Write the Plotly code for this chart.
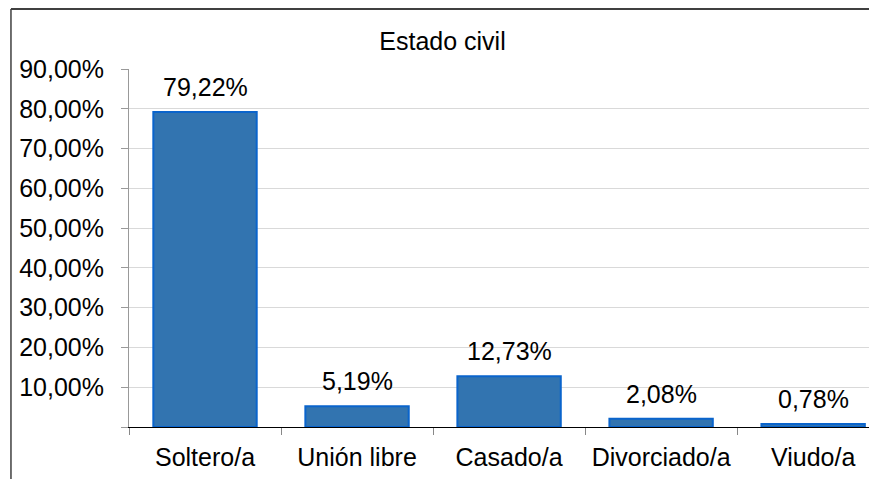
import plotly.graph_objs as go

# datos del grafico "Estado civil"
categorias = ["Soltero/a", "Unión libre", "Casado/a", "Divorciado/a", "Viudo/a"]
porcentajes = [79.22, 5.19, 12.73, 2.08, 0.78]
ticks_y = [0, 10, 20, 30, 40, 50, 60, 70, 80, 90]
etiquetas_y = [""] + [f"{v:.2f}".replace(".", ",") + "%" for v in ticks_y[1:]]

fuente = "Liberation Sans, Arial, sans-serif"
tam = 25

def fmt(v):
    return f"{v:.2f}".replace(".", ",") + "%"

bar = go.Bar(x=categorias, y=porcentajes, width=0.68,
             marker=dict(color="#3274b0", line=dict(color="#0a64cc", width=2)))

fig = go.Figure(data=[bar])

annotations = []
for c, v in zip(categorias, porcentajes):
    annotations.append(dict(x=c, y=v, text=fmt(v), showarrow=False, yanchor="bottom",
                            yshift=9, font=dict(size=tam, color="black", family=fuente)))

# borde del area del grafico (solo izquierda y arriba se ven)
borde = [
    dict(type="line", xref="paper", yref="paper", x0=-0.1578, x1=-0.1578, y0=-0.3, y1=1.1676,
         line=dict(color="#404040", width=1.5)),
    dict(type="line", xref="paper", yref="paper", x0=-0.1578, x1=1.1, y0=1.1676, y1=1.1676,
         line=dict(color="#404040", width=2)),
]

# la pagina tiene 8px de margen en el body, asi que el grafico va mas chico
# (alto 471 para que no aparezca la barra de scroll)
fig.update_layout(
    width=869, height=471,
    margin=dict(l=121, r=0, t=61, b=52),
    paper_bgcolor="white", plot_bgcolor="white",
    showlegend=False,
    title=dict(text="Estado civil", x=0.5, xref="container", y=1 - 33 / 471, yanchor="middle",
               font=dict(size=tam, color="black", family=fuente)),
    annotations=annotations,
    font=dict(family=fuente, size=tam, color="black"),
    shapes=borde,
)
fig.update_xaxes(range=[-0.5, 4.42], showline=True, linecolor="black", linewidth=1,
                 ticks="outside", tickson="boundaries", ticklen=7, tickcolor="#888888",
                 showgrid=False, ticklabelstandoff=8,
                 tickfont=dict(size=tam, color="black", family=fuente))
fig.update_yaxes(range=[0, 90], tickvals=ticks_y, ticktext=etiquetas_y,
                 showline=True, linecolor="#999999", linewidth=1,
                 ticks="outside", ticklen=7, tickcolor="#999999",
                 showgrid=True, gridcolor="#d9d9d9", gridwidth=1, zeroline=False,
                 ticklabelstandoff=12,
                 tickfont=dict(size=tam, color="black", family=fuente))

fig.write_html("out.html")
